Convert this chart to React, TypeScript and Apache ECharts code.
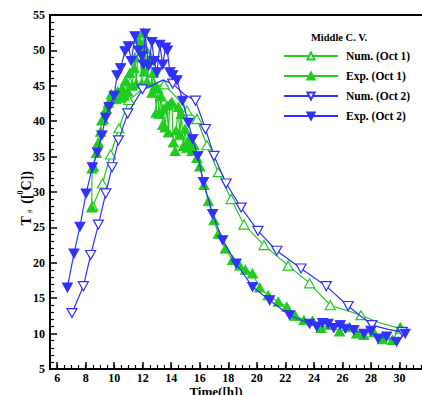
import React, { useEffect, useRef } from "react";
import * as echarts from "echarts";

// Temperature of the middle control volume versus time of day.
// Numerical results (open triangles) and measurements (filled triangles).

const numOct1Time = [8.5, 9.18, 9.75, 10.33, 11.04, 11.9, 12.7, 13.5, 14.3, 15.1, 15.8, 16.5, 17.3, 18.2, 19.1, 20.5, 22.2, 23.7, 25.15, 27.3, 28.5, 30.06];
const numOct1Temp = [28.0, 31.2, 35.3, 39.0, 43.0, 44.4, 44.9, 45.2, 43.5, 41.5, 40.3, 36.6, 32.8, 29.0, 25.4, 22.5, 19.6, 17.1, 14.0, 12.6, 11.6, 10.7];
const numOct1Marked = [1, 1, 1, 1, 1, 0, 0, 1, 0, 1, 1, 1, 1, 1, 1, 1, 1, 1, 1, 1, 0, 1];

const expOct1Time = [
  8.42, 8.45, 8.56, 8.75, 8.89, 9.05, 9.13, 9.24, 9.45, 9.6, 9.8, 9.94, 10.1, 10.25, 10.4, 10.55, 10.7, 10.8, 10.95, 11.1,
  11.25, 11.4, 11.46, 11.55, 11.7, 11.8, 11.93, 12.05, 12.12, 12.2, 12.3, 12.45, 12.57, 12.65, 12.75, 12.87, 12.94, 13.05, 13.15, 13.3,
  13.4, 13.45, 13.57, 13.7, 13.8, 13.9, 14.04, 14.15, 14.27, 14.35, 14.5, 14.6, 14.7, 14.85, 14.97, 15.1, 15.2, 15.3, 15.45, 15.6,
  15.8, 16.0, 16.3, 16.6, 17.0, 17.3, 17.8, 18.3, 18.8, 19.2, 19.7, 20.2, 20.8, 21.5, 22.1, 22.7, 23.3, 23.9, 24.5, 25.1,
  25.8, 26.5, 27.0, 27.5, 28.2, 28.8, 29.5, 30.06,
];
const expOct1Temp = [
  27.8, 33.3, 33.6, 35.5, 37.0, 38.5, 40.1, 40.3, 41.8, 42.6, 43.8, 43.4, 43.1, 44.2, 43.3, 44.6, 43.6, 45.7, 44.2, 46.8,
  45.0, 47.5, 49.0, 45.3, 51.6, 50.9, 45.3, 52.5, 47.0, 50.2, 45.6, 48.6, 49.0, 44.0, 46.8, 45.0, 41.2, 44.6, 41.0, 43.5,
  39.5, 41.7, 39.1, 42.2, 38.4, 42.4, 42.7, 37.0, 35.8, 38.7, 42.0, 38.0, 41.0, 36.5, 38.9, 36.2, 37.3, 36.8, 35.8, 36.6,
  34.8, 33.6, 31.0, 28.7, 26.0, 24.1, 22.0, 20.4, 19.6, 19.0, 18.5, 16.5, 15.4, 14.5, 13.8, 12.5, 11.9, 11.8, 10.8, 11.2,
  10.3, 10.9, 10.0, 9.8, 10.2, 9.2, 9.1, 10.9,
];

const numOct2Time = [7.04, 7.84, 8.35, 8.89, 9.41, 9.85, 10.3, 10.95, 11.98, 12.8, 13.4, 14.1, 14.9, 15.7, 16.4, 17.0, 17.85, 18.9, 20.08, 21.4, 23.1, 24.87, 26.4, 28.07, 29.2, 30.2];
const numOct2Temp = [12.9, 16.7, 21.1, 25.4, 29.8, 33.5, 37.3, 41.1, 44.5, 45.2, 45.8, 45.3, 43.8, 42.9, 38.9, 35.1, 31.2, 27.8, 24.5, 21.7, 19.2, 16.7, 13.9, 11.2, 10.6, 10.25];
const numOct2Marked = [1, 1, 1, 1, 1, 1, 1, 1, 1, 0, 0, 1, 0, 1, 1, 1, 1, 1, 1, 1, 1, 1, 1, 1, 0, 1];

const expOct2Time = [
  6.72, 7.18, 7.6, 8.03, 8.47, 8.82, 9.13, 9.4, 9.64, 10.0, 10.2, 10.45, 10.76, 11.0, 11.2, 11.46, 11.7, 11.93, 12.05, 12.17,
  12.4, 12.64, 12.8, 13.0, 13.2, 13.4, 13.6, 13.73, 13.9, 14.1, 14.4, 14.8, 15.2, 15.5, 15.86, 16.26, 16.9, 17.6, 18.55, 19.7,
  20.9, 22.3, 23.7, 24.2, 24.6, 25.0, 25.4, 25.85, 26.2, 26.8, 27.5, 28.0, 28.5, 29.1, 29.8, 30.4,
];
const expOct2Temp = [
  16.5, 21.3, 25.1, 29.8, 33.5, 35.6, 38.0, 40.5, 42.0, 43.6, 46.5, 47.5, 49.9, 50.6, 48.5, 52.0, 50.0, 49.2, 48.0, 52.4,
  47.8, 51.2, 48.5, 46.9, 50.8, 48.0, 50.4, 50.0, 46.9, 46.5, 45.8, 42.9, 39.8, 37.5, 35.1, 31.4, 26.9, 23.2, 19.9, 16.6,
  14.7, 12.6, 11.4, 11.0, 11.5, 11.4, 10.8, 11.2, 10.7, 10.5, 10.0, 10.4, 9.3, 9.6, 8.85, 10.0,
];

const xTickLabels = [6, 8, 10, 12, 14, 16, 18, 20, 22, 24, 26, 28, 30, 32];
const legendNames = ["Num. (Oct 1)", "Exp. (Oct 1)", "Num. (Oct 2)", "Exp. (Oct 2)"];

const GREEN = "#1fcc1f";
const BLUE = "#3030ff";
const FONT = "'Liberation Serif', 'Times New Roman', serif";

function points(times: number[], temps: number[], marked?: number[]) {
  return times.map((t, i) =>
    marked && !marked[i] ? { value: [t, temps[i]], symbol: "none" } : { value: [t, temps[i]] }
  );
}

export default function App() {
  const ref = useRef<HTMLDivElement>(null);

  useEffect(() => {
    if (!ref.current) return;
    const chart = echarts.init(ref.current, undefined, { renderer: "svg" });

    const minorX: number[] = [];
    for (let v = 6; v <= 32; v += 0.5) minorX.push(v);

    const axisFont = { fontFamily: FONT, fontWeight: "bold" as const, fontSize: 12, color: "#000", lineHeight: 12 };

    const makeSeries = (
      name: string,
      data: any[],
      color: string,
      filled: boolean,
      down: boolean,
      z: number
    ) => ({
      type: "line",
      name,
      data,
      symbol: "triangle",
      symbolSize: [10, 9],
      symbolRotate: down ? 180 : 0,
      showAllSymbol: true,
      z,
      lineStyle: { color, width: 1.2 },
      itemStyle: filled
        ? { color, borderColor: color, borderWidth: 1 }
        : { color: "#fff", borderColor: color, borderWidth: 1.2 },
      emphasis: { disabled: true },
    });

    chart.setOption({
      animation: false,
      backgroundColor: "#fff",
      grid: {
        left: 50,
        top: 15,
        right: -6,
        bottom: 26,
        outerBoundsMode: "none",
        containLabel: false,
        show: true,
        borderColor: "#000",
        borderWidth: 2,
        backgroundColor: "transparent",
      },
      xAxis: [
        {
          type: "value",
          min: 5.5,
          max: 32,
          position: "bottom",
          splitLine: { show: false },
          axisLine: { lineStyle: { color: "#000", width: 2 } },
          axisTick: {
            inside: true,
            length: 7,
            lineStyle: { color: "#000", width: 1.5 },
            customValues: xTickLabels,
          },
          axisLabel: { ...axisFont, margin: 3, customValues: xTickLabels },
        },
        {
          type: "value",
          min: 5.5,
          max: 32,
          position: "bottom",
          splitLine: { show: false },
          axisLine: { show: false },
          axisTick: {
            inside: true,
            length: 4,
            lineStyle: { color: "#000", width: 1.2 },
            customValues: minorX,
          },
          axisLabel: { show: false },
        },
      ],
      yAxis: {
        type: "value",
        min: 5,
        max: 55,
        interval: 5,
        splitLine: { show: false },
        axisLine: { lineStyle: { color: "#000", width: 2 } },
        axisTick: { inside: true, length: 7, lineStyle: { color: "#000", width: 1.5 } },
        minorTick: { show: true, splitNumber: 5, length: 4, lineStyle: { color: "#000", width: 1.2 } },
        axisLabel: { ...axisFont, margin: 5 },
      },
      legend: {
        orient: "vertical",
        left: 278,
        top: 45,
        itemWidth: 54,
        itemHeight: 9,
        itemGap: 8,
        selectedMode: false,
        textStyle: { fontFamily: FONT, fontWeight: "bold", fontSize: 11.5, color: "#000", lineHeight: 11, padding: [0, 0, 0, 3] },
        data: legendNames,
      },
      graphic: [
        {
          type: "text",
          x: 339,
          y: 37,
          style: {
            text: "Middle C. V.",
            fontFamily: FONT,
            fontWeight: "bold",
            fontSize: 10.5,
            fill: "#000",
            align: "center",
            verticalAlign: "middle",
          },
        },
        {
          type: "text",
          x: 216,
          y: 391,
          style: {
            text: "Time([h])",
            fontFamily: FONT,
            fontWeight: "bold",
            fontSize: 13,
            lineHeight: 13,
            fill: "#000",
            align: "center",
            verticalAlign: "middle",
          },
        },
      ],
      series: [
        makeSeries(legendNames[0], points(numOct1Time, numOct1Temp, numOct1Marked), GREEN, false, false, 2),
        makeSeries(legendNames[1], points(expOct1Time, expOct1Temp), GREEN, true, false, 3),
        makeSeries(legendNames[2], points(numOct2Time, numOct2Temp, numOct2Marked), BLUE, false, true, 4),
        makeSeries(legendNames[3], points(expOct2Time, expOct2Temp), BLUE, true, true, 5),
      ],
    });

    return () => chart.dispose();
  }, []);

  const small: React.CSSProperties = { fontSize: 8 };

  return (
    <div style={{ position: "absolute", left: 0, top: 0, width: 422, height: 395, overflow: "hidden" }}>
      <div ref={ref} style={{ position: "absolute", left: 0, top: 0, width: 422, height: 395 }} />
      {/* vertical axis title, read from bottom to top */}
      <div
        style={{
          position: "absolute",
          left: 13,
          top: 171,
          writingMode: "vertical-rl",
          transform: "rotate(180deg)",
          fontFamily: FONT,
          fontWeight: "bold",
          fontSize: 14,
          lineHeight: "16px",
          color: "#000",
          whiteSpace: "nowrap",
          pointerEvents: "none",
        }}
      >
        T<sub style={small}>∞</sub> ([<sup style={small}>0</sup>C])
      </div>
    </div>
  );
}
